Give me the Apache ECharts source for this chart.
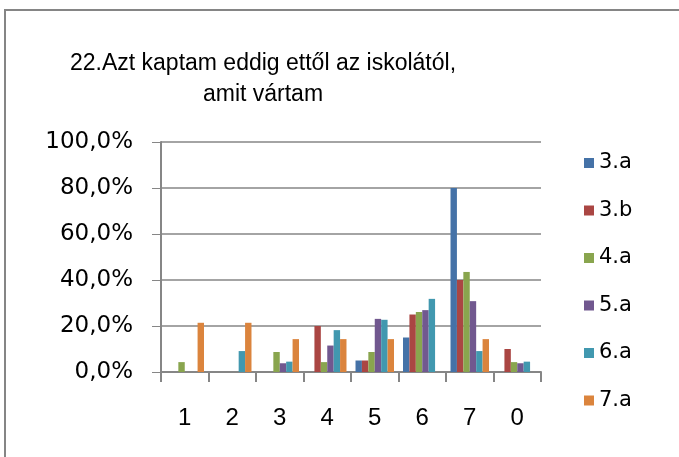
<!DOCTYPE html>
<html>
<head>
<meta charset="utf-8">
<script src="https://cdn.jsdelivr.net/npm/echarts@6/dist/echarts.min.js"></script>
<style>
    body {
        margin: 0;
        background: #fff;
    }
    .main {
        width: 679px;
        height: 457px;
    }
</style>
</head>
<body>
<div class="main" id="main"></div>
<script>
// adatok (szazalek)
let categories = ['1', '2', '3', '4', '5', '6', '7', '0']
let yTicks = [0, 20, 40, 60, 80, 100]
let names = ['3.a', '3.b', '4.a', '5.a', '6.a', '7.a']
let a3 = [0, 0, 0, 0, 5.0, 15.0, 80.0, 0]
let b3 = [0, 0, 0, 20.0, 5.0, 25.0, 40.0, 10.0]
let a4 = [4.3, 0, 8.7, 4.3, 8.7, 26.1, 43.5, 4.3]
let a5 = [0, 0, 3.8, 11.5, 23.1, 26.9, 30.8, 3.8]
let a6 = [0, 9.1, 4.5, 18.2, 22.7, 31.8, 9.1, 4.5]
let a7 = [21.4, 21.4, 14.3, 14.3, 14.3, 0, 14.3, 0]
let colors = ['#4572A7', '#AA4643', '#89A54E', '#71588F', '#4198AF', '#DB843D']

let values = [a3, b3, a4, a5, a6, a7]
let series = names.map((n, i) => ({
    name: n,
    type: 'bar',
    data: values[i],
    barGap: '0%',
    barCategoryGap: '19%',
    itemStyle: { color: colors[i] }
}))

let myChart = echarts.init(document.getElementById('main'))
let font = 'Liberation Sans'
let font2 = 'DejaVu Sans'
let option = {
    animation: false,
    color: colors,
    textStyle: { fontFamily: font },
    graphic: [
        {
            type: 'polyline',
            shape: { points: [[5, 457], [5, 10], [679, 10]] },
            style: { stroke: '#858585', lineWidth: 2, fill: null }
        },
        {
            type: 'text',
            x: 263,
            y: 48,
            style: {
                text: '22.Azt kaptam eddig ettől az iskolától,\namit vártam',
                font: '23px Liberation Sans',
                fill: '#000',
                textAlign: 'center',
                lineHeight: 31
            }
        }
    ],
    legend: {
        orient: 'vertical',
        left: 579,
        top: 146,
        icon: 'rect',
        itemWidth: 10,
        itemHeight: 10,
        itemGap: 23.5,
        textStyle: { fontSize: 21, color: '#000', lineHeight: 24, fontFamily: font2 },
        data: names
    },
    grid: {
        left: 161,
        top: 142,
        width: 380,
        height: 230
    },
    xAxis: {
        type: 'category',
        data: categories,
        axisLine: { lineStyle: { color: '#868686', width: 2 } },
        axisTick: { show: true, length: 10, lineStyle: { color: '#868686', width: 2 } },
        axisLabel: { margin: 34, fontSize: 24, color: '#000', fontFamily: font }
    },
    yAxis: {
        type: 'value',
        min: yTicks[0],
        max: yTicks[yTicks.length - 1],
        interval: 20,
        axisLine: { show: true, lineStyle: { color: '#868686', width: 2 } },
        axisTick: { show: true, length: 9, lineStyle: { color: '#868686', width: 1 } },
        splitLine: { lineStyle: { color: '#868686', width: 1.5 } },
        axisLabel: {
            margin: 28,
            fontSize: 23,
            color: '#000',
            fontFamily: font2,
            formatter: v => v.toFixed(1).replace('.', ',') + '%'
        }
    },
    series: series
}
myChart.setOption(option)
</script>
</body>
</html>
